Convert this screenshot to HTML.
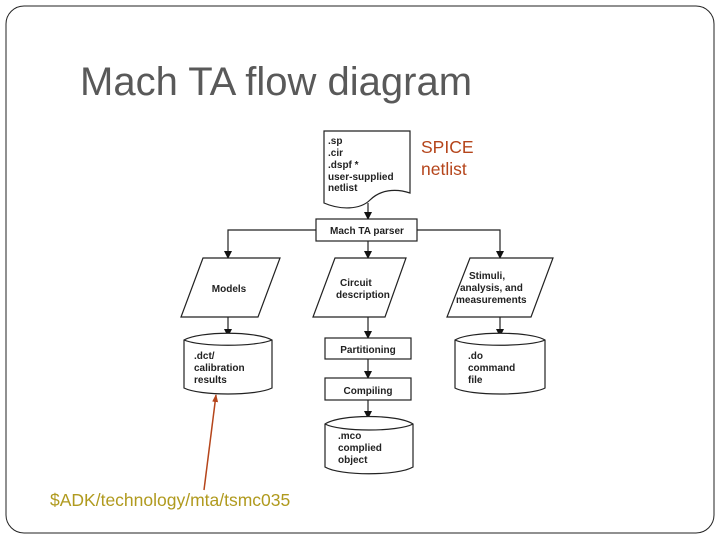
<!DOCTYPE html>
<html><head><meta charset="utf-8"><style>
html,body{margin:0;padding:0;background:#fff;}
svg{display:block;font-family:"Liberation Sans",Arial,sans-serif;}
.b{font-size:10px;font-weight:bold;fill:#222;}
</style></head><body>
<svg width="720" height="540" viewBox="0 0 720 540" xmlns="http://www.w3.org/2000/svg">
<defs><marker id="a" markerWidth="8" markerHeight="8" refX="7" refY="4" orient="auto" markerUnits="userSpaceOnUse"><path d="M0,0 L8,4 L0,8 z" fill="#111"/></marker>
<marker id="o" markerWidth="8" markerHeight="8" refX="7" refY="4" orient="auto" markerUnits="userSpaceOnUse"><path d="M0,1 L8,4 L0,7 z" fill="#b5451b"/></marker></defs>
<rect x="6" y="6" width="708" height="527" rx="18" fill="#fff" stroke="#222" stroke-width="1"/>
<text x="80" y="95" font-size="40" fill="#595959">Mach TA flow diagram</text>
<g stroke="#222" stroke-width="1.2" fill="#fff">
<path d="M324,131 L410,131 L410,193 C395,188 380,190 370,200 C360,210 340,210 324,203 Z"/>
<line x1="368" y1="203" x2="368" y2="219" marker-end="url(#a)"/>
<rect x="316" y="219" width="101" height="22"/>
<polyline points="316,230 228,230 228,258" fill="none" marker-end="url(#a)"/>
<polyline points="417,230 500,230 500,258" fill="none" marker-end="url(#a)"/>
<line x1="368" y1="241" x2="368" y2="258" marker-end="url(#a)"/>
<polygon points="203,258 280,258 258,317 181,317"/>
<polygon points="335,258 406,258 385,317 313,317"/>
<polygon points="470,258 553,258 531,317 447,317"/>
<line x1="228" y1="317" x2="228" y2="336" marker-end="url(#a)"/>
<line x1="368" y1="317" x2="368" y2="338" marker-end="url(#a)"/>
<line x1="500" y1="317" x2="500" y2="336" marker-end="url(#a)"/>
<path d="M184,340 C200,331 256,331 272,340 L272,388 C256,396 200,396 184,388 Z"/>
<path d="M184,340 C200,347 256,347 272,340" fill="none"/>
<path d="M455,340 C470,331 530,331 545,340 L545,388 C530,396 470,396 455,388 Z"/>
<path d="M455,340 C470,347 530,347 545,340" fill="none"/>
<rect x="325" y="338" width="86" height="21"/>
<line x1="368" y1="359" x2="368" y2="378" marker-end="url(#a)"/>
<rect x="325" y="378" width="86" height="22"/>
<line x1="368" y1="400" x2="368" y2="418" marker-end="url(#a)"/>
<path d="M325,424 C340,414 398,414 413,424 L413,467 C398,476 340,476 325,467 Z"/>
<path d="M325,424 C340,432 398,432 413,424" fill="none"/>
</g>
<text class="b" x="328" y="144">.sp</text>
<text class="b" x="328" y="156">.cir</text>
<text class="b" x="328" y="168">.dspf *</text>
<text class="b" x="328" y="180">user-supplied</text>
<text class="b" x="328" y="191">netlist</text>
<text class="b" x="367" y="234" text-anchor="middle">Mach TA parser</text>
<text class="b" x="229" y="292" text-anchor="middle">Models</text>
<text class="b" x="340" y="286">Circuit</text>
<text class="b" x="336" y="298">description</text>
<text class="b" x="469" y="279">Stimuli,</text>
<text class="b" x="460" y="291">analysis, and</text>
<text class="b" x="456" y="303">measurements</text>
<text class="b" x="194" y="359">.dct/</text>
<text class="b" x="194" y="371">calibration</text>
<text class="b" x="194" y="383">results</text>
<text class="b" x="468" y="359">.do</text>
<text class="b" x="468" y="371">command</text>
<text class="b" x="468" y="383">file</text>
<text class="b" x="368" y="353" text-anchor="middle">Partitioning</text>
<text class="b" x="368" y="394" text-anchor="middle">Compiling</text>
<text class="b" x="338" y="439">.mco</text>
<text class="b" x="338" y="451">complied</text>
<text class="b" x="338" y="463">object</text>
<text x="421" y="153" font-size="17.5" fill="#b5451b">SPICE</text>
<text x="421" y="175" font-size="17.5" fill="#b5451b">netlist</text>
<line x1="204" y1="490" x2="216" y2="395" stroke="#b5451b" stroke-width="1.5" marker-end="url(#o)"/>
<text x="50" y="506" font-size="17.5" fill="#b09a1e">$ADK/technology/mta/tsmc035</text>
</svg>
</body></html>
